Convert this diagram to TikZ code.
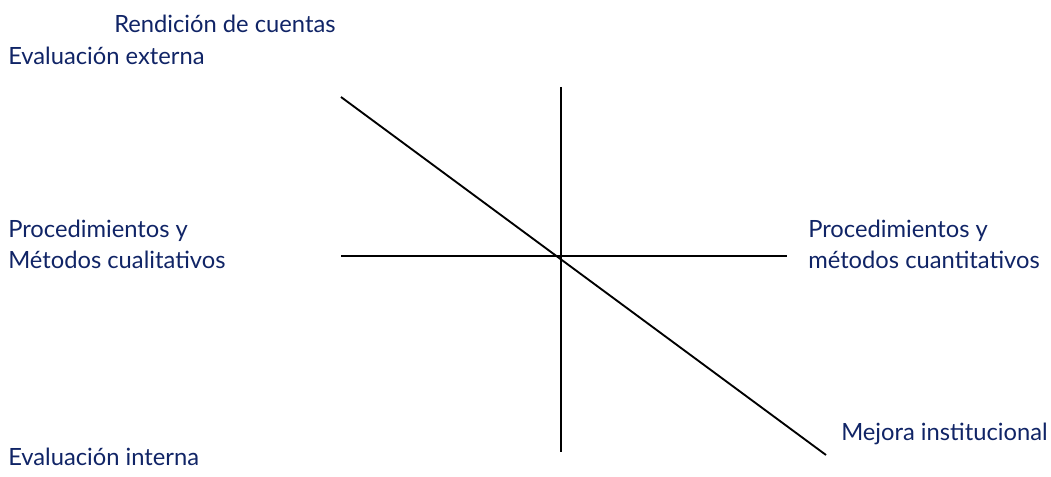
\documentclass[tikz,border=0pt]{standalone}
\usepackage{fontspec}
\setmainfont{Lato}
\definecolor{navy}{RGB}{16,36,102}
\begin{document}
\begin{tikzpicture}[x=0.75pt,y=-0.75pt,
  lbl/.style={anchor=base west,inner sep=0pt,text=navy,font=\fontsize{17.8}{21}\selectfont},
  axis/.style={line width=1.4pt,black}]
\useasboundingbox (0,0) rectangle (1051,477);
\node[lbl] (rc) at (114,33) {Rendición de cuentas};
\node[lbl] (ee) at (8,65) {Evaluación externa};
\node[lbl] (pl1) at (8,238) {Procedimientos y};
\node[lbl] (pl2) at (8,269) {Métodos cualitativos};
\node[lbl] (pr1) at (808,238) {Procedimientos y};
\node[lbl] (pr2) at (808,269) {métodos cuantitativos};
\node[lbl] (mi) at (841,441) {Mejora institucional};
\node[lbl] (ei) at (8,466) {Evaluación interna};
\coordinate (vt) at (561,87);
\coordinate (vb) at (561,452);
\coordinate (hl) at (341,256);
\coordinate (hr) at (787,256);
\coordinate (dt) at (341,97);
\coordinate (db) at (826,455);
\draw[axis] (vt) -- (vb);
\draw[axis] (hl) -- (hr);
\draw[axis] (dt) -- (db);
\end{tikzpicture}
\end{document}
